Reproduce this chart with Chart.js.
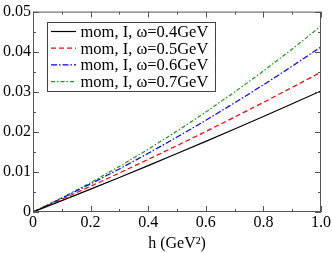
<!DOCTYPE html>
<html lang="en">
<head>
    <meta charset="UTF-8">
    <title>mom, I vs h</title>
    <script src="https://cdn.jsdelivr.net/npm/chart.js"></script>
    <style>
        html, body { margin: 0; padding: 0; background: #ffffff; }
        #wrap { width: 332px; height: 253px; }
    </style>
</head>
<body>
    <div id="wrap"><canvas id="chart" width="332" height="253"></canvas></div>
    <script>
        // data
        const hValues = [0, 0.1, 0.2, 0.3, 0.4, 0.5, 0.6, 0.7, 0.8, 0.9, 1.0];
        const omega04 = [0, 0.00283, 0.00570, 0.00862, 0.01158, 0.01458, 0.01762, 0.02070, 0.02382, 0.02699, 0.0302];
        const omega05 = [0, 0.00318, 0.00642, 0.00974, 0.01312, 0.01658, 0.0201, 0.0237, 0.02736, 0.0311, 0.0349];
        const omega06 = [0, 0.00343, 0.00702, 0.01075, 0.01464, 0.01869, 0.02288, 0.02723, 0.03174, 0.03639, 0.0412];
        const omega07 = [0, 0.00355, 0.00734, 0.01138, 0.01566, 0.02018, 0.02494, 0.02994, 0.03518, 0.04067, 0.0464];
        const seriesLabels = ['mom, I, \u03c9=0.4GeV', 'mom, I, \u03c9=0.5GeV', 'mom, I, \u03c9=0.6GeV', 'mom, I, \u03c9=0.7GeV'];
        const xMinorTicks = [0, 0.1, 0.2, 0.3, 0.4, 0.5, 0.6, 0.7, 0.8, 0.9, 1.0];
        const yMinorTicks = [0, 0.005, 0.01, 0.015, 0.02, 0.025, 0.03, 0.035, 0.04, 0.045, 0.05];

        const serif = "'Liberation Serif', 'Times New Roman', serif";
        const axisColor = '#555555';

        const toPoints = (ys) => ys.map((y, i) => ({ x: hValues[i], y: y }));

        // inward tick marks on all four sides, like the xmgrace frame
        const frameTicks = {
            id: 'frameTicks',
            afterDatasetsDraw(chart) {
                const ctx = chart.ctx;
                const a = chart.chartArea;
                const xs = chart.scales.x, ys = chart.scales.y;
                ctx.save();
                ctx.strokeStyle = axisColor;
                ctx.lineWidth = 1;
                ctx.strokeRect(a.left + 0.5, a.top + 0.5, a.right - a.left - 1, a.bottom - a.top - 1);
                ctx.beginPath();
                xMinorTicks.forEach((v, i) => {
                    const px = Math.round(xs.getPixelForValue(v)) + 0.5;
                    const len = i % 2 === 0 ? 6 : 3;
                    ctx.moveTo(px, a.bottom); ctx.lineTo(px, a.bottom - len);
                    ctx.moveTo(px, a.top); ctx.lineTo(px, a.top + len);
                });
                yMinorTicks.forEach((v, i) => {
                    const py = Math.round(ys.getPixelForValue(v)) + 0.5;
                    const len = i % 2 === 0 ? 6 : 3;
                    ctx.moveTo(a.left, py); ctx.lineTo(a.left + len, py);
                    ctx.moveTo(a.right, py); ctx.lineTo(a.right - len, py);
                });
                ctx.stroke();
                ctx.restore();
            }
        };

        // boxed legend in the upper left
        const boxLegend = {
            id: 'boxLegend',
            afterDraw(chart) {
                const ctx = chart.ctx;
                ctx.save();
                ctx.fillStyle = '#ffffff';
                ctx.fillRect(47, 22, 168, 69);
                ctx.strokeStyle = '#444444';
                ctx.lineWidth = 1;
                ctx.strokeRect(47.5, 22.5, 168, 69);
                ctx.font = '16.5px ' + serif;
                ctx.textBaseline = 'middle';
                chart.data.datasets.forEach((ds, i) => {
                    const y = 31.5 + i * 16.7;
                    ctx.strokeStyle = ds.borderColor;
                    ctx.lineWidth = ds.borderWidth;
                    ctx.setLineDash(ds.borderDash || []);
                    ctx.beginPath();
                    ctx.moveTo(51, y); ctx.lineTo(76, y);
                    ctx.stroke();
                    ctx.setLineDash([]);
                    ctx.fillStyle = '#000000';
                    ctx.fillText(ds.label, 80.5, y + 1);
                });
                ctx.restore();
            }
        };

        new Chart(document.getElementById('chart'), {
            type: 'line',
            data: {
                datasets: [
                    { label: seriesLabels[0], data: toPoints(omega04), borderColor: '#000000', borderWidth: 1.2, borderDash: [] },
                    { label: seriesLabels[1], data: toPoints(omega05), borderColor: '#ff0000', borderWidth: 1.2, borderDash: [5, 3] },
                    { label: seriesLabels[2], data: toPoints(omega06), borderColor: '#0000ff', borderWidth: 1.2, borderDash: [6, 2, 1.5, 2] },
                    { label: seriesLabels[3], data: toPoints(omega07), borderColor: '#1a9a1a', borderWidth: 1.2, borderDash: [4, 2, 1.5, 2] }
                ]
            },
            options: {
                responsive: false,
                animation: false,
                layout: { padding: { left: 0, top: 6, right: 5, bottom: 0 } },
                elements: { point: { radius: 0 }, line: { tension: 0, fill: false } },
                plugins: { legend: { display: false }, tooltip: { enabled: false } },
                scales: {
                    x: {
                        type: 'linear', min: 0, max: 1,
                        grid: { display: false, drawTicks: false, tickLength: 0 },
                        border: { display: false },
                        ticks: { stepSize: 0.2, padding: 1, color: '#000000', font: { family: serif, size: 16 }, maxRotation: 0 },
                        title: { display: true, text: 'h (GeV\u00b2)', color: '#000000', font: { family: serif, size: 16 }, padding: { top: 0, bottom: 0 } },
                        afterFit(scale) { scale.height = 41; }
                    },
                    y: {
                        type: 'linear', min: 0, max: 0.05,
                        grid: { display: false, drawTicks: false, tickLength: 0 },
                        border: { display: false },
                        ticks: { stepSize: 0.01, padding: 2, color: '#000000', font: { family: serif, size: 16 } },
                        afterFit(scale) { scale.width = 33; }
                    }
                }
            },
            plugins: [frameTicks, boxLegend]
        });
    </script>
</body>
</html>
